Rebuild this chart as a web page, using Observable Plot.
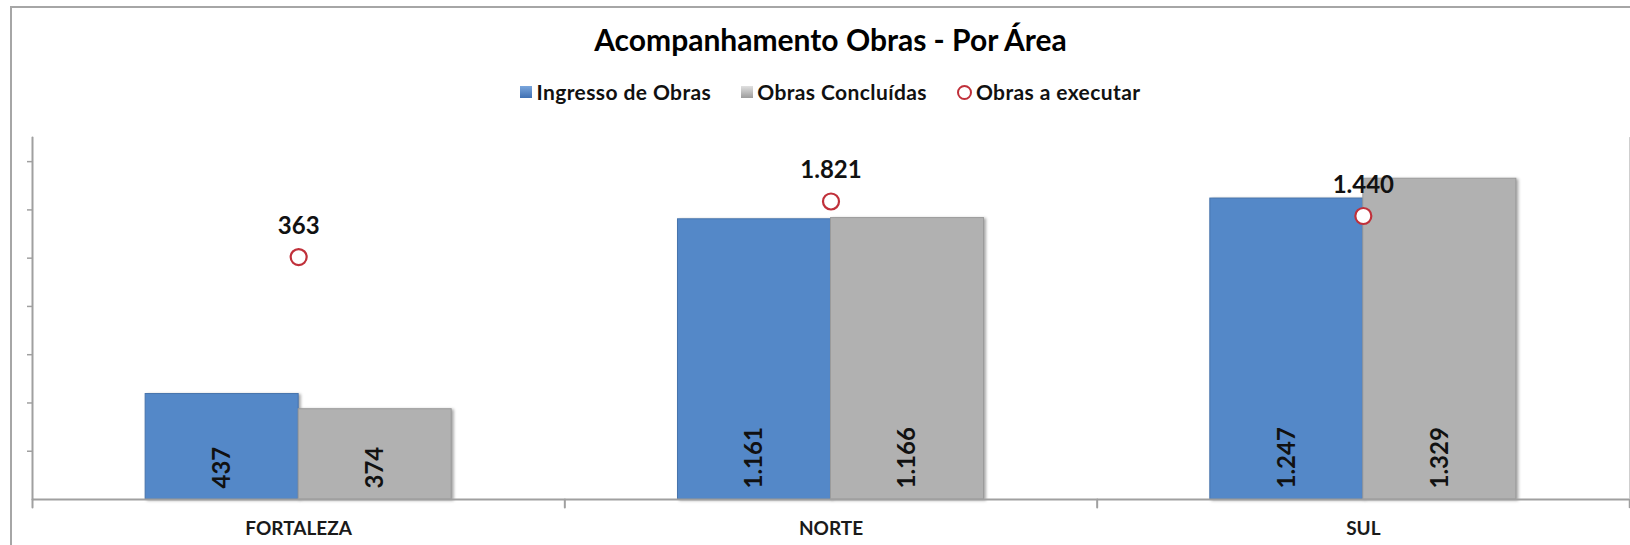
<!DOCTYPE html>
<html>
<head>
<meta charset="utf-8">
<script src="https://cdn.jsdelivr.net/npm/d3@7"></script>
<script src="https://cdn.jsdelivr.net/npm/@observablehq/plot@0.6"></script>
<style>
html, body { margin: 0; padding: 0; background: #fff; }
body { width: 1630px; height: 545px; overflow: hidden; position: relative; font-family: Lato, "Open Sans", sans-serif; }
#frame { position: absolute; left: 10px; top: 6px; width: 1700px; height: 600px; border-left: 2px solid #a6a6a6; border-top: 2px solid #a6a6a6; box-sizing: border-box; }
#title { position: absolute; left: 32px; width: 1597px; top: 21px; text-align: center; font-size: 30px; font-weight: 700; color: #000; line-height: 36px; }
#legend { position: absolute; left: 32px; width: 1597px; top: 80px; display: flex; justify-content: center; gap: 30px; font-size: 21px; font-weight: 700; letter-spacing: 0.4px; line-height: 24px; color: #111; }
.item { display: flex; align-items: center; gap: 4px; }
.sw { width: 12px; height: 12px; box-sizing: border-box; }
.circ { width: 15px; height: 15px; border-radius: 50%; border: 2px solid #c0303a; background: #fff; box-sizing: border-box; }
#chart { position: absolute; left: 0; top: 120px; }
#chart g[aria-label="bar"] rect { filter: drop-shadow(2px 1px 1.5px rgba(0,0,0,0.35)); }
</style>
</head>
<body>
<div id="frame"></div>
<div id="title"></div>
<div id="legend"></div>
<div id="chart"></div>
<script>
// ---- data ----
const titleText = "Acompanhamento Obras - Por Área";
const categories = ["FORTALEZA", "NORTE", "SUL"];
const seriesNames = ["Ingresso de Obras", "Obras Concluídas"];
const pointSeriesName = "Obras a executar";
const ingresso = [437, 1161, 1247];
const concluidas = [374, 1166, 1329];
const aExecutar = [363, 1821, 1440];
const primaryDomain = [0, 1500];
const secondaryDomain = [-6000, 3500];
const yTicks = [200, 400, 600, 800, 1000, 1200, 1400];

// ---- styles ----
const blue = "#5488c8";
const gray = "#b1b1b1";
const barStroke = ["#4774ad", "#9b9b9b"];
const red = "#c0303a";

const fmt = d3.formatLocale({decimal: ",", thousands: ".", grouping: [3], currency: ["R$", ""]}).format(",d");

document.getElementById("title").textContent = titleText;

// legend
const legend = document.getElementById("legend");
const legendItems = [
  {name: seriesNames[0], kind: "sq", bg: "linear-gradient(#7aa6dc, #3f70b2)"},
  {name: seriesNames[1], kind: "sq", bg: "linear-gradient(#e0e0e0, #9c9c9c)"},
  {name: pointSeriesName, kind: "circ"}
];
for (const it of legendItems) {
  const item = document.createElement("div");
  item.className = "item";
  const m = document.createElement("div");
  if (it.kind === "sq") { m.className = "sw"; m.style.background = it.bg; }
  else m.className = "circ";
  const t = document.createElement("span");
  t.textContent = it.name;
  item.append(m, t);
  legend.append(item);
}

const rows = categories.flatMap((c, i) => [
  {cat: c, serie: seriesNames[0], v: ingresso[i]},
  {cat: c, serie: seriesNames[1], v: concluidas[i]}
]);
const pts = categories.map((c, i) => ({cat: c, v: aExecutar[i]}));
const sec = d3.scaleLinear().domain(secondaryDomain).range(primaryDomain);

const W = 1630, H = 424, MT = 17, MB = 45, ML = 32, MR = 1;
const plotH = H - MT - MB;
const line = {draw(ctx, l) { ctx.moveTo(0, 0); ctx.lineTo(0, -l); }};
const axisColor = "#a0a0a0";

const chart = Plot.plot({
  width: W, height: H,
  marginTop: MT, marginBottom: MB, marginLeft: ML, marginRight: MR,
  style: {fontFamily: "Lato, sans-serif", background: "transparent", overflow: "visible"},
  fx: {domain: categories, padding: 0, round: false, label: null},
  x: {domain: seriesNames, paddingInner: 0, paddingOuter: 0.7395, round: false, axis: null},
  y: {domain: primaryDomain, label: null},
  color: {domain: seriesNames, range: [blue, gray]},
  marks: [
    Plot.barY(rows, {fx: "cat", x: "serie", y: "v", fill: "serie",
      stroke: d => barStroke[seriesNames.indexOf(d.serie)], strokeWidth: 1}),
    Plot.ruleY([0], {stroke: axisColor, strokeWidth: 2}),
    Plot.axisY({ticks: yTicks, tickFormat: () => "", tickSize: 5, stroke: axisColor, strokeWidth: 1.5, label: null}),
    Plot.vector([{cat: categories[0]}], {fx: "cat", frameAnchor: "bottom-left", anchor: "start",
      length: plotH, rotate: 0, shape: line, stroke: axisColor, strokeWidth: 2}),
    Plot.vector(categories.map(c => ({cat: c})), {fx: "cat", frameAnchor: "bottom-left", anchor: "start",
      length: 8, rotate: 180, shape: line, stroke: axisColor, strokeWidth: 2}),
    Plot.vector([{cat: categories[categories.length - 1]}], {fx: "cat", frameAnchor: "bottom-right", anchor: "start",
      length: plotH, rotate: 0, shape: line, stroke: "#cfcfcf", strokeWidth: 1}),
    Plot.vector([{cat: categories[categories.length - 1]}], {fx: "cat", frameAnchor: "bottom-right", anchor: "start",
      length: 8, rotate: 180, shape: line, stroke: axisColor, strokeWidth: 1.5}),
    Plot.text(rows, {fx: "cat", x: "serie", y: () => 0, text: d => fmt(d.v), rotate: -90,
      textAnchor: "start", lineAnchor: "middle", dy: -11, fontSize: 24, fontWeight: "bold", fill: "#111"}),
    Plot.dot(pts, {fx: "cat", y: d => sec(d.v), r: 8, fill: "#fff", stroke: red, strokeWidth: 2.2}),
    Plot.text(pts, {fx: "cat", y: d => sec(d.v), text: d => fmt(d.v), dy: -31,
      fontSize: 24, fontWeight: "bold", fill: "#111"}),
    Plot.axisFx({anchor: "bottom", tickSize: 0, tickPadding: 22, fontSize: 19, fontWeight: "bold",
      fill: "#1a1a1a", label: null})
  ]
});
document.getElementById("chart").append(chart);
</script>
</body>
</html>
